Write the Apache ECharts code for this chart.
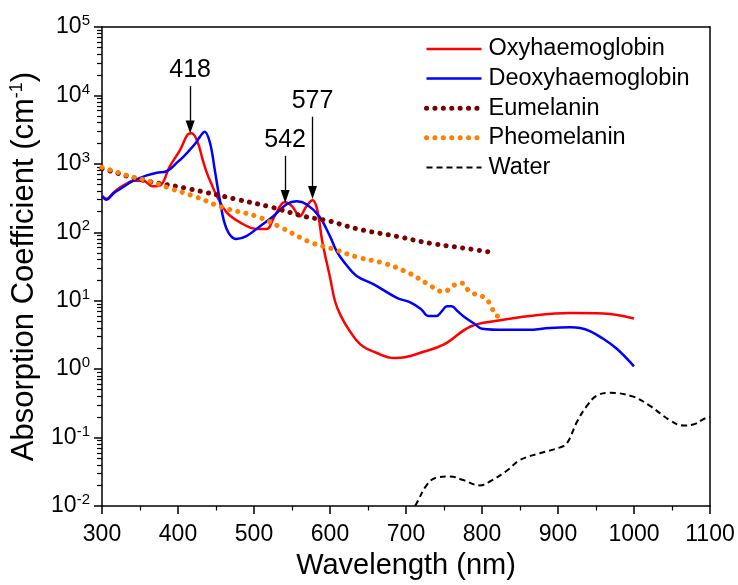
<!DOCTYPE html>
<html>
<head>
<meta charset="utf-8">
<script src="https://cdn.jsdelivr.net/npm/echarts@6/dist/echarts.min.js"></script>
<style>html,body{margin:0;padding:0;background:#fff}#c{width:738px;height:585px}</style>
</head>
<body>
<div id="c"></div>
<script>
// ---- data ----
const oxyWl = [300,306,315,324,333,341,354,367,376,389,403,413,418,426,432,438,445,451,464,481,504,517,525,536,541,551,560,569,577,583,590,600,607,615,624,640,660,685,700,720,750,785,820,863,916,960,1000];
const oxyVal = [340,310,380,455,520,565,565,470,480,910,1620,2700,2800,2050,1200,740,480,340,195,141,112,112,155,257,274,234,170,240,295,218,72,22,9.5,5.8,3.9,2.3,1.75,1.45,1.5,1.75,2.3,4.2,5.1,6.0,6.6,6.5,5.5];

const deoxyWl = [300,306,315,324,333,341,359,372,385,399,408,416,423,429,435,442,449,455,464,477,490,508,525,543,556,569,586,600,609,620,635,657,688,705,720,729,740,747,754,760,768,775,790,800,830,860,889,916,929,942,959,977,1000];
const deoxyVal = [340,300,370,430,500,565,680,740,780,1050,1300,1620,2000,2500,2950,2050,740,300,112,80,88,123,170,257,283,257,170,87,52,35,23,17.5,11,9.5,7.5,6.0,6.0,7.0,8.3,8.3,7.0,6.0,4.6,3.9,3.75,3.75,4.0,4.1,4.0,3.6,2.8,2.0,1.1];

const euWl = [300,310,350,411,479,525,564,600,622,644,688,732,775,813];
const euVal = [850,790,590,440,300,230,173,145,123,107,87,69,59,51];

const pheoWl = [300,337,367,389,425,459,504,536,571,596,604,637,672,705,727,750,762,774,784,804,812,818,828];
const pheoVal = [890,660,540,440,325,230,170,117,74,60,57,43,35,25,18,13.5,16.6,18,13.5,11,8.3,6.2,5.6];

const waterWl = [705,714,727,740,758,775,797,811,833,850,876,903,912,925,938,951,968,998,1021,1047,1065,1078,1093,1100];
const waterVal = [0.0075,0.011,0.020,0.026,0.027,0.024,0.020,0.023,0.033,0.047,0.059,0.072,0.083,0.17,0.29,0.41,0.45,0.40,0.29,0.18,0.15,0.155,0.19,0.2];

const seriesNames = ['Oxyhaemoglobin','Deoxyhaemoglobin','Eumelanin','Pheomelanin','Water'];

// peak annotations: label, wavelength, arrow top value, arrow tip value
const peakLabels = ['418','542','577'];
const peakWl = [416,541,577];
const peakTop = [13700,1310,4890];
const peakTip = [3470,334,383];

// ---- helpers ----
const zip = (a,b) => a.map((v,i)=>[v,b[i]]);
const minorLogTicks = [];
for (let e = -2; e < 5; e++) for (let k = 2; k <= 9; k++) minorLogTicks.push(e + Math.log10(k));

const FONT = 'Liberation Sans, Arial, sans-serif';
const chart = echarts.init(document.getElementById('c'));

const markData = peakLabels.map((lab,i)=>[
  {coord:[peakWl[i], peakTop[i]], name: lab},
  {coord:[peakWl[i], peakTip[i]]}
]);

const dotted = c => ({color: c, width: 5, type: [0.1, 8.3], cap: 'round'});
const styles = [
  {color: '#ff0000', width: 2.5},
  {color: '#0000ff', width: 2.5},
  dotted('#7b0000'),
  dotted('#ff8000'),
  {color: '#000', width: 2, type: [6, 4]}
];
const AX = {color: '#000', width: 1.5};
const frameAxis = {axisLine: {show: true, onZero: false, lineStyle: AX}, axisTick: {show: false}, axisLabel: {show: false}, splitLine: {show: false}};

chart.setOption({
  animation: false,
  backgroundColor: '#fff',
  textStyle: {fontFamily: FONT},
  grid: {left: 102, right: 28, top: 27, bottom: 78},
  legend: {
    data: seriesNames.map((n,i)=>({name: n, lineStyle: styles[i], itemStyle: {opacity: 0, color: 'rgba(0,0,0,0)', borderWidth: 0}})),
    left: 424, top: 36, orient: 'vertical', padding: 0,
    itemWidth: 55, itemHeight: 14, itemGap: 3.6,
    textStyle: {fontFamily: FONT, fontSize: 23.5, color: '#000', lineHeight: 26, padding: [0,0,0,2]},
    selectedMode: false
  },
  xAxis: [{
    type: 'value', min: 300, max: 1100, interval: 100, position: 'bottom',
    name: 'Wavelength (nm)', nameLocation: 'middle', nameGap: 45,
    nameTextStyle: {fontFamily: FONT, fontSize: 29, color: '#000'},
    axisLine: {onZero: false, lineStyle: AX},
    axisTick: {show: true, length: 8, lineStyle: AX},
    minorTick: {show: true, splitNumber: 2, length: 4.5, lineStyle: {color: '#000', width: 1.2}},
    axisLabel: {fontFamily: FONT, fontSize: 23, color: '#000', margin: 17, formatter: v => String(v)},
    splitLine: {show: false}
  }, Object.assign({type: 'value', min: 300, max: 1100, position: 'top'}, frameAxis)],
  yAxis: [{
    type: 'log', logBase: 10, min: 0.01, max: 100000, position: 'left',
    name: '{a|Absorption Coefficient (cm}{s|-1}{a|)}', nameLocation: 'middle', nameGap: 53, nameRotate: 90,
    nameTextStyle: {fontFamily: FONT, color: '#000', rich: {
      a: {fontFamily: FONT, fontSize: 31, color: '#000'},
      s: {fontFamily: FONT, fontSize: 18, color: '#000', padding: [0,0,15,0]}
    }},
    axisLine: {show: true, onZero: false, lineStyle: AX},
    axisTick: {show: true, length: 8, lineStyle: AX},
    axisLabel: {
      margin: 12,
      formatter: v => '{n|10}{s|' + Math.round(Math.log10(v)) + '}',
      rich: {
        n: {fontFamily: FONT, fontSize: 23, color: '#000'},
        s: {fontFamily: FONT, fontSize: 15, color: '#000', padding: [0,0,12,0]}
      }
    },
    splitLine: {show: false}
  }, {
    type: 'value', min: -2, max: 5, position: 'left',
    axisLine: {show: false, onZero: false},
    axisTick: {show: true, length: 5, customValues: minorLogTicks, lineStyle: {color: '#000', width: 1.2}},
    axisLabel: {show: false},
    splitLine: {show: false}
  }, Object.assign({type: 'value', min: -2, max: 5, position: 'right'}, frameAxis)],
  series: [
    {name: seriesNames[0], type: 'line', data: zip(oxyWl, oxyVal), smooth: 0.4, symbol: 'none',
     lineStyle: styles[0], itemStyle: {color: styles[0].color},
     markLine: {silent: true, symbol: ['none','triangle'], symbolSize: [9, 13],
       lineStyle: {color: '#000', width: 1.3, type: 'solid'},
       label: {show: true, position: 'start', formatter: '{b}', fontFamily: FONT, fontSize: 25, color: '#000', distance: 3},
       data: markData}},
    {name: seriesNames[1], type: 'line', data: zip(deoxyWl, deoxyVal), smooth: 0.4, symbol: 'none',
     lineStyle: styles[1], itemStyle: {color: styles[1].color}},
    {name: seriesNames[2], type: 'line', data: zip(euWl, euVal), smooth: 0.4, symbol: 'none',
     lineStyle: styles[2], itemStyle: {color: styles[2].color}},
    {name: seriesNames[3], type: 'line', data: zip(pheoWl, pheoVal), smooth: 0.4, symbol: 'none',
     lineStyle: styles[3], itemStyle: {color: styles[3].color}},
    {name: seriesNames[4], type: 'line', data: zip(waterWl, waterVal), smooth: 0.4, symbol: 'none',
     lineStyle: styles[4], itemStyle: {color: styles[4].color}}
  ]
});
</script>
</body>
</html>
